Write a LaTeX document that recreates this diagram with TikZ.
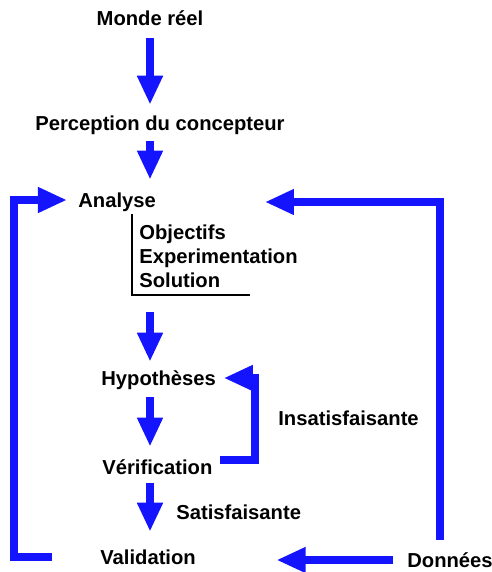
\documentclass[tikz,border=0pt]{standalone}
\usepackage{fontspec}
\setmainfont{Liberation Sans}
\usetikzlibrary{arrows.meta}
\definecolor{flowblue}{RGB}{20,20,255}
\begin{document}
\begin{tikzpicture}[x=0.02cm,y=-0.02cm,>={Triangle[width=13.7pt,length=16.5pt]},
  font=\fontsize{11.5}{13}\selectfont\bfseries,
  lbl/.style={inner sep=0pt,text height=8.2pt,text depth=0pt},
  flow/.style={->,flowblue,line width=4.3pt},
  fb/.style={->,flowblue,line width=4pt}]
\useasboundingbox (0,0) rectangle (491,572);
\node[lbl] (monde) at (150,18) {Monde réel};
\node[lbl] (perception) at (160,123) {Perception du concepteur};
\node[lbl,anchor=west] (analyse) at (78,200) {Analyse};
\node[lbl,anchor=west] (objectifs) at (139,232) {Objectifs};
\node[lbl,anchor=west] (experimentation) at (139,256) {Experimentation};
\node[lbl,anchor=west] (solution) at (139,280) {Solution};
\node[lbl,anchor=west] (hypotheses) at (101,378) {Hypothèses};
\node[lbl,anchor=west] (verification) at (102,467) {Vérification};
\node[lbl,anchor=west] (satisf) at (176,512) {Satisfaisante};
\node[lbl,anchor=west] (insatisf) at (278,418) {Insatisfaisante};
\node[lbl,anchor=west] (validation) at (100,557) {Validation};
\node[lbl,anchor=west] (donnees) at (407,560) {Données};
\coordinate (brktop) at (132,214);
\coordinate (brkend) at (250,295);
\coordinate (lft) at (14,0);
\coordinate (rgt) at (440,0);
\coordinate (insx) at (255,0);
\coordinate (rtip) at (265,202);
% main chain
\draw[flow,shorten >=6.1pt] (monde.south) ++(0,12.8) -- (monde.south |- perception.north);
\draw[flow,shorten >=7.3pt] (perception.south -| monde) ++(0,10) -- (analyse.north -| monde);
\draw[line width=1.3pt] (brktop) |- (brkend);
\draw[flow,shorten >=5pt] (monde |- brkend) ++(0,17) -- (hypotheses.north -| monde);
\draw[flow,shorten >=7.3pt] (hypotheses.south -| monde) ++(0,11.8) -- (verification.north -| monde);
\draw[flow,shorten >=10.1pt] (verification.south -| monde) ++(0,8.8) -- (validation.north -| monde);
% loops
\draw[fb,shorten >=4.3pt] (verification.east) ++(7,-7) -| (insx |- hypotheses.east) -- (hypotheses.east);
\draw[fb,shorten >=6.3pt] (validation.west) ++(-48,0) -| (lft |- analyse.west) -- (analyse.west);
\draw[fb] (donnees.north -| rgt) ++(0,-12.8) |- (rtip);
\draw[fb,shorten >=45.8pt] (donnees.west) ++(-14,0) -- (donnees.west -| validation.east);
\end{tikzpicture}
\end{document}
